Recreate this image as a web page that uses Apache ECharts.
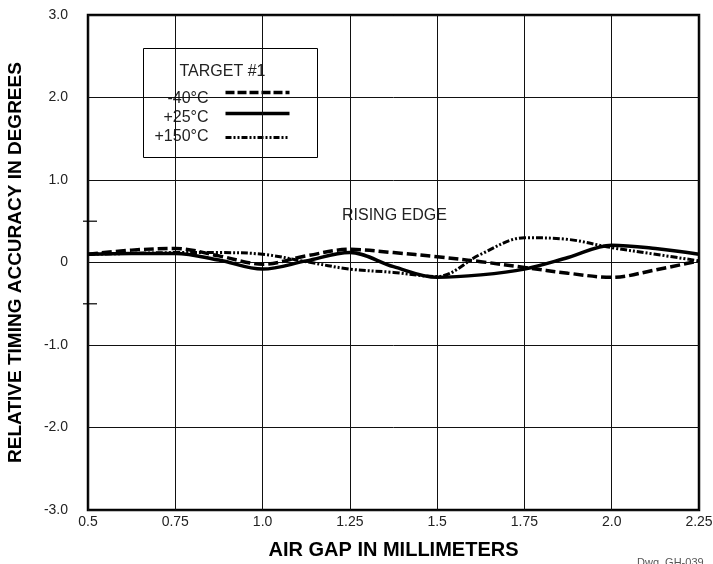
<!DOCTYPE html>
<html lang="en">
<head>
    <meta charset="UTF-8">
    <title>Timing accuracy vs air gap</title>
    <script src="https://cdn.jsdelivr.net/npm/echarts@6/dist/echarts.min.js"></script>
</head>
<body style="margin:0">
<div id="main" style="width: 713px;height:564px;"></div>
<script type="text/javascript">
    // air gap (mm) where the curves were read
    var gapData = [0.5, 0.625, 0.75, 0.875, 1.0, 1.125, 1.25, 1.375, 1.5, 1.625, 1.75, 1.875, 2.0, 2.125, 2.25];
    // relative timing accuracy (degrees)
    var minus40Data = [0.10, 0.15, 0.17, 0.08, -0.02, 0.08, 0.16, 0.12, 0.07, 0.01, -0.06, -0.13, -0.18, -0.09, 0.02];
    var plus25Data = [0.10, 0.11, 0.11, 0.03, -0.08, 0.02, 0.12, -0.05, -0.18, -0.15, -0.08, 0.06, 0.21, 0.17, 0.10];
    var plus150Data = [0.10, 0.11, 0.12, 0.12, 0.10, 0.01, -0.08, -0.12, -0.17, 0.10, 0.30, 0.28, 0.18, 0.10, 0.02];
    // tick labels
    var xTickLabels = {'0.5': '0.5', '0.75': '0.75', '1': '1.0', '1.25': '1.25', '1.5': '1.5', '1.75': '1.75', '2': '2.0', '2.25': '2.25'};
    var yTickLabels = {'3': '3.0', '2': '2.0', '1': '1.0', '0': '0', '-1': '-1.0', '-2': '-2.0', '-3': '-3.0'};
    var halfTicks = [0.5, -0.5];

    function pairs(ys) {
        var out = [];
        for (var i = 0; i < gapData.length; i++) {
            out.push([gapData[i], ys[i]]);
        }
        return out;
    }

    var font = 'Liberation Sans, Arial, sans-serif';
    var myChart = echarts.init(document.getElementById('main'));
    var option = {
        backgroundColor: '#fff',
        animation: false,
        grid: {
            left: 88, right: 14, top: 15, bottom: 54,
            outerBoundsMode: 'none',
            show: true,
            borderColor: '#000',
            borderWidth: 2.5
        },
        xAxis: {
            type: 'value',
            min: 0.5, max: 2.25, interval: 0.25,
            name: 'AIR GAP IN MILLIMETERS',
            nameLocation: 'middle',
            nameGap: 30,
            nameTextStyle: {fontFamily: font, fontWeight: 'bold', fontSize: 20, color: '#000'},
            axisLine: {show: false},
            axisTick: {show: false},
            axisLabel: {
                fontFamily: font, fontSize: 14, color: '#222', margin: 5,
                formatter: function (v) { return xTickLabels[String(v)] || ''; }
            },
            splitLine: {show: true, lineStyle: {color: '#111', width: 1}}
        },
        yAxis: {
            type: 'value',
            min: -3, max: 3, interval: 1,
            name: 'RELATIVE TIMING ACCURACY IN DEGREES',
            nameLocation: 'middle',
            nameGap: 63,
            nameTextStyle: {fontFamily: font, fontWeight: 'bold', fontSize: 19, color: '#000'},
            axisLine: {show: false},
            axisTick: {show: false},
            axisLabel: {
                fontFamily: font, fontSize: 14, color: '#222', margin: 20,
                formatter: function (v) { return yTickLabels[String(v)] || ''; }
            },
            splitLine: {show: true, lineStyle: {color: '#111', width: 1}}
        },
        graphic: [
            {
                type: 'text',
                left: 342, top: 208,
                style: {text: 'RISING EDGE', font: '16px ' + font, fill: '#222'}
            },
            {
                type: 'text',
                left: 637, top: 557,
                style: {text: 'Dwg. GH-039', font: '11px ' + font, fill: '#555'}
            },
            {
                type: 'group',
                left: 143, top: 48,
                children: [
                    {type: 'rect', shape: {x: 0, y: 0, width: 174, height: 109},
                        style: {fill: '#fff', stroke: '#000', lineWidth: 1}},
                    {type: 'text', x: 79, y: 23, style: {text: 'TARGET #1', font: '16px ' + font, fill: '#222', textAlign: 'center', textVerticalAlign: 'middle'}},
                    {type: 'text', x: 65, y: 50, style: {text: '-40°C', font: '16px ' + font, fill: '#222', textAlign: 'right', textVerticalAlign: 'middle'}},
                    {type: 'text', x: 65, y: 69, style: {text: '+25°C', font: '16px ' + font, fill: '#222', textAlign: 'right', textVerticalAlign: 'middle'}},
                    {type: 'text', x: 65, y: 88, style: {text: '+150°C', font: '16px ' + font, fill: '#222', textAlign: 'right', textVerticalAlign: 'middle'}},
                    {type: 'line', shape: {x1: 82, y1: 44, x2: 146, y2: 44},
                        style: {stroke: '#000', lineWidth: 3.5, lineDash: [9, 3]}},
                    {type: 'line', shape: {x1: 82, y1: 65, x2: 146, y2: 65},
                        style: {stroke: '#000', lineWidth: 3.5}},
                    {type: 'line', shape: {x1: 82, y1: 89, x2: 146, y2: 89},
                        style: {stroke: '#000', lineWidth: 3, lineDash: [6, 2, 2, 2, 2, 2]}}
                ]
            }
        ],
        series: [
            {
                name: 'half ticks',
                type: 'scatter',
                symbol: 'rect',
                symbolSize: [14, 1.5],
                symbolOffset: [2, 0],
                clip: false,
                silent: true,
                itemStyle: {color: '#000'},
                data: halfTicks.map(function (v) { return [0.5, v]; })
            },
            {
                name: '-40°C',
                type: 'line',
                smooth: 0.35,
                symbol: 'none',
                lineStyle: {color: '#000', width: 3.5, type: [10, 4]},
                data: pairs(minus40Data)
            },
            {
                name: '+25°C',
                type: 'line',
                smooth: 0.35,
                symbol: 'none',
                lineStyle: {color: '#000', width: 3.5},
                data: pairs(plus25Data)
            },
            {
                name: '+150°C',
                type: 'line',
                smooth: 0.35,
                symbol: 'none',
                lineStyle: {color: '#000', width: 3, type: [7, 2, 2, 2, 2, 2]},
                data: pairs(plus150Data)
            }
        ]
    };
    myChart.setOption(option);
</script>
</body>
</html>
